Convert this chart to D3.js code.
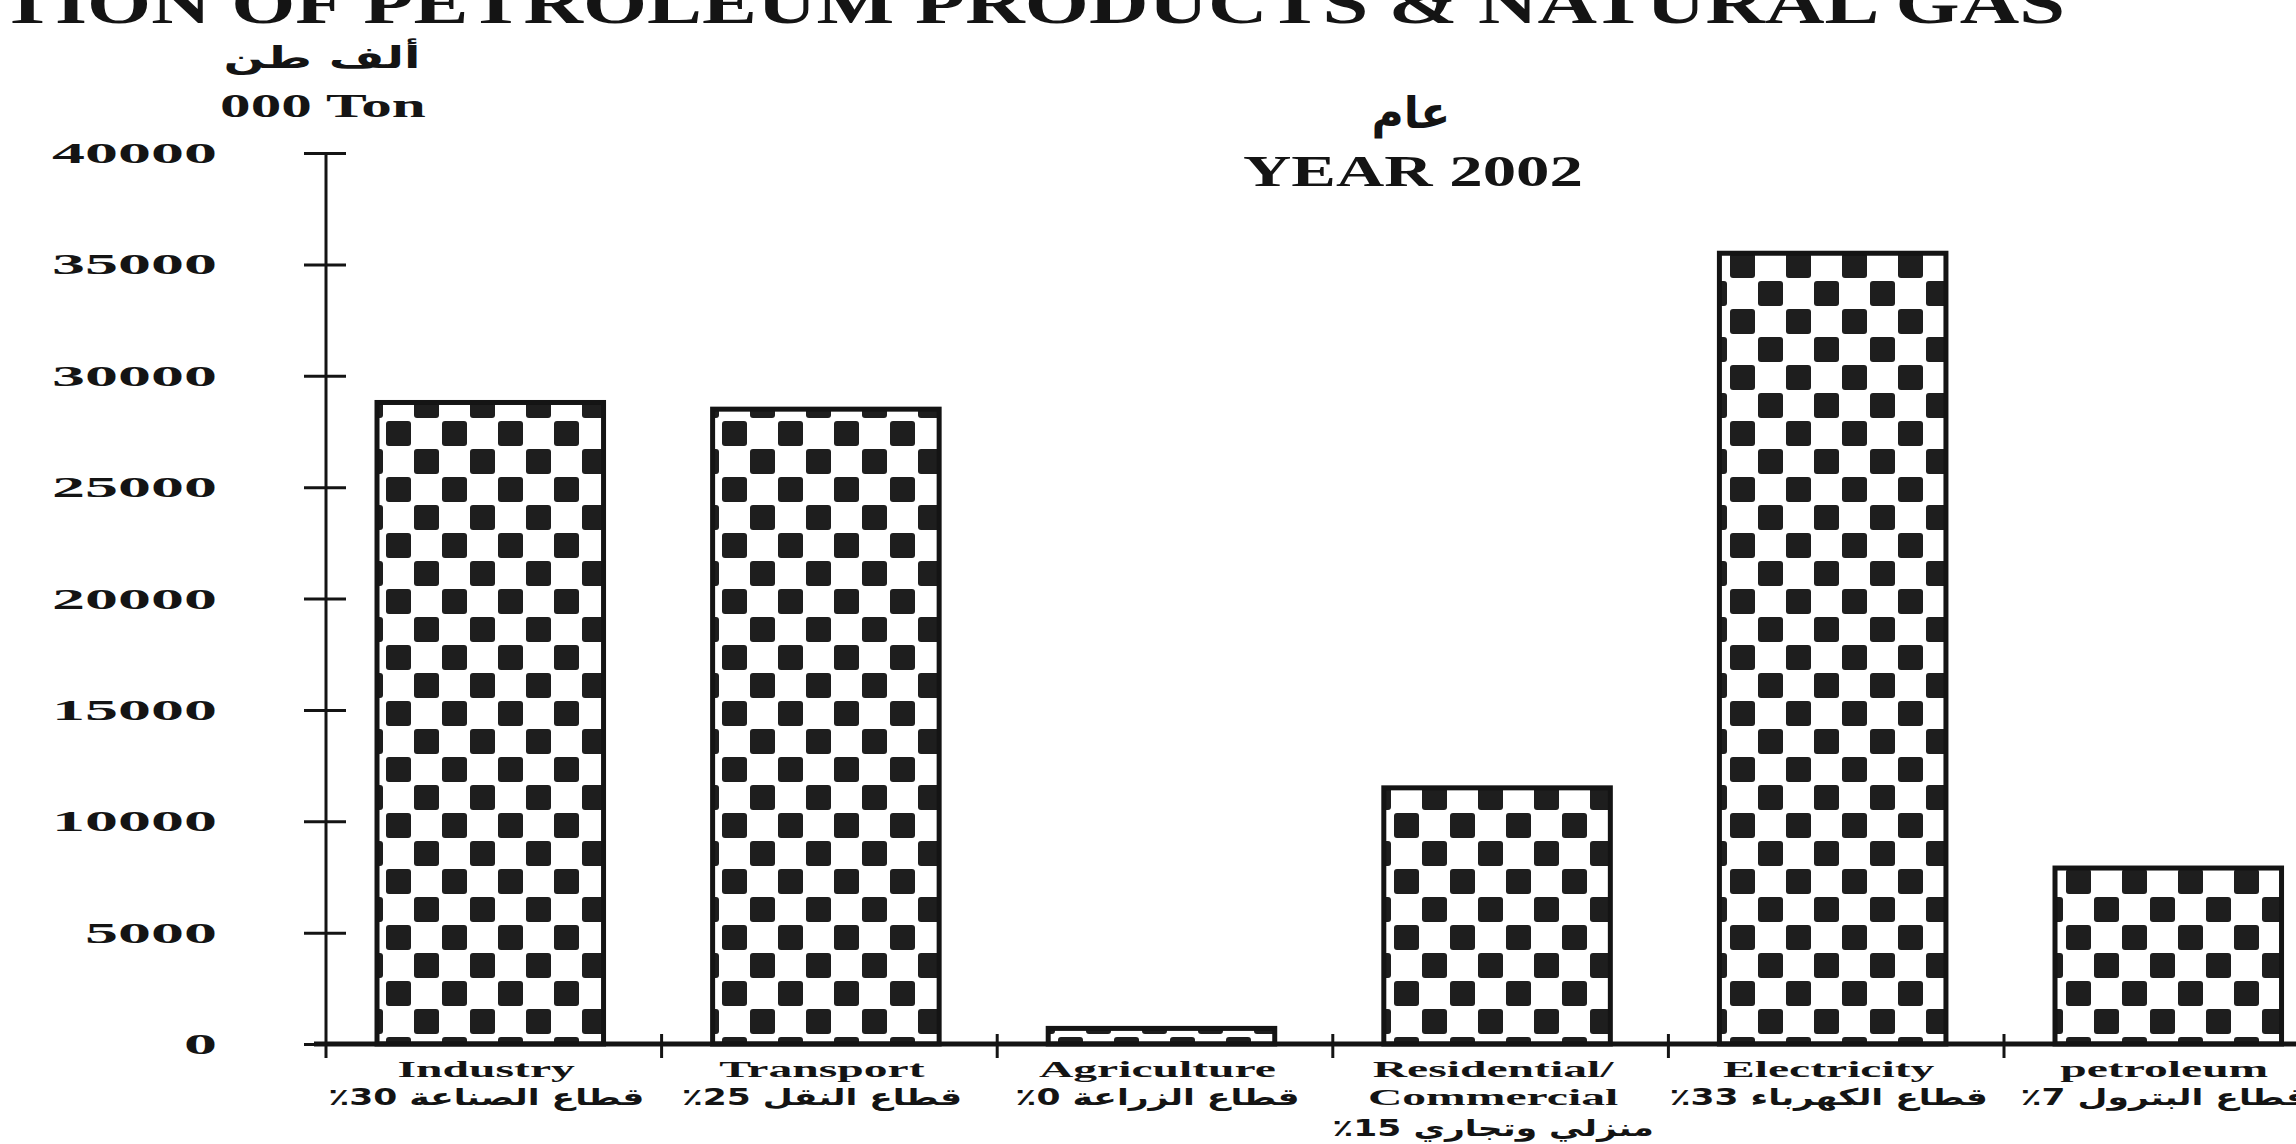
<!DOCTYPE html>
<html>
<head>
<meta charset="utf-8">
<script src="https://cdn.jsdelivr.net/npm/d3@7"></script>
<style>
  html, body { margin: 0; padding: 0; background: #fff; }
  svg { display: block; }
</style>
</head>
<body>
<svg id="chart" width="2296" height="1144"></svg>
<script>
// ---- data ----
const categories = ["Industry", "Transport", "Agriculture", "Residential", "Electricity", "Petroleum"];
const labelLine1 = ["Industry", "Transport", "Agriculture", "Residential/", "Electricity", "petroleum"];
const labelLine2 = ["", "", "", "Commercial", "", ""];
const labelArabic = ["قطاع الصناعة 30٪", "قطاع النقل 25٪", "قطاع الزراعة 0٪", "منزلي وتجاري 15٪", "قطاع الكهرباء 33٪", "قطاع البترول 7٪"];
const values = [28800, 28500, 700, 11500, 35500, 7900];
const yTickValues = [0, 5000, 10000, 15000, 20000, 25000, 30000, 35000, 40000];
const titleText = "TION OF PETROLEUM PRODUCTS & NATURAL GAS";
const unitArabic = "ألف طن";
const unitEnglish = "000 Ton";
const yearArabic = "عام";
const yearEnglish = "YEAR 2002";

// ---- layout ----
const svg = d3.select("#chart");
const serif = "'Liberation Serif', 'Times New Roman', serif";
const arabicFont = "'DejaVu Sans', sans-serif";
const ink = "#141414";

const axisX = 326, baseY = 1044, topY = 153, bandStep = 335.6;
const y = d3.scaleLinear().domain([0, 40000]).range([baseY, topY]);
const x = d3.scaleBand().domain(categories)
  .range([axisX, axisX + bandStep * categories.length])
  .paddingInner(0).paddingOuter(0);
const barOffset = 0.152, barFrac = 0.675;

// stretch helper: widen text horizontally like the original typesetting
function stretch(sel, factor) {
  sel.each(function () {
    const w = this.getComputedTextLength();
    d3.select(this).attr("textLength", w * factor).attr("lengthAdjust", "spacingAndGlyphs");
  });
  return sel;
}

// checker pattern
const defs = svg.append("defs");
const pat = defs.append("pattern").attr("id", "checker")
  .attr("patternUnits", "userSpaceOnUse")
  .attr("width", 56).attr("height", 56).attr("x", 48).attr("y", 27);
pat.append("rect").attr("width", 56).attr("height", 56).attr("fill", "#fff");
pat.append("rect").attr("x", 2).attr("y", 2).attr("width", 25).attr("height", 25).attr("rx", 3).attr("fill", "#1e1e1e");
pat.append("rect").attr("x", 30).attr("y", 30).attr("width", 25).attr("height", 25).attr("rx", 3).attr("fill", "#1e1e1e");

// title (cut at top edge)
svg.append("text").attr("x", 0).attr("y", 23)
  .attr("font-family", serif).attr("font-weight", "bold").attr("font-size", 60)
  .attr("fill", ink).text(titleText)
  .attr("textLength", 2065).attr("lengthAdjust", "spacingAndGlyphs");

// unit labels
stretch(svg.append("text").attr("x", 322).attr("y", 68).attr("text-anchor", "middle")
  .attr("font-family", arabicFont).attr("font-weight", "bold").attr("font-size", 30)
  .attr("direction", "rtl").attr("fill", ink).text(unitArabic), 1.6);
stretch(svg.append("text").attr("x", 323).attr("y", 117).attr("text-anchor", "middle")
  .attr("font-family", serif).attr("font-weight", "bold").attr("font-size", 34)
  .attr("fill", ink).text(unitEnglish), 1.8);

// year labels
stretch(svg.append("text").attr("x", 1411).attr("y", 128).attr("text-anchor", "middle")
  .attr("font-family", arabicFont).attr("font-weight", "bold").attr("font-size", 44)
  .attr("direction", "rtl").attr("fill", ink).text(yearArabic), 1.0);
stretch(svg.append("text").attr("x", 1413).attr("y", 186).attr("text-anchor", "middle")
  .attr("font-family", serif).attr("font-weight", "bold").attr("font-size", 44)
  .attr("fill", ink).text(yearEnglish), 1.52);

// bars
svg.append("g").selectAll("rect").data(values).join("rect")
  .attr("x", (d, i) => x(categories[i]) + x.bandwidth() * barOffset)
  .attr("width", x.bandwidth() * barFrac)
  .attr("y", d => y(d))
  .attr("height", d => baseY - y(d))
  .attr("fill", "url(#checker)")
  .attr("stroke", ink).attr("stroke-width", 5);

// y axis
const yAxis = d3.axisLeft(y).tickValues(yTickValues).tickSize(0).tickFormat(d3.format("d"));
const gy = svg.append("g").attr("transform", `translate(${axisX},0)`).call(yAxis);
gy.select(".domain").remove();
gy.selectAll(".tick text")
  .attr("x", -109)
  .attr("font-family", serif).attr("font-weight", "bold").attr("font-size", 30)
  .attr("fill", ink);
gy.selectAll(".tick text").each(function () {
  const w = this.getComputedTextLength();
  d3.select(this).attr("textLength", w * 2.2).attr("lengthAdjust", "spacingAndGlyphs");
});
gy.selectAll(".tick").append("line")
  .attr("x1", -22).attr("x2", 20).attr("stroke", ink).attr("stroke-width", 3);
svg.append("line").attr("x1", axisX).attr("x2", axisX)
  .attr("y1", y(40000)).attr("y2", baseY + 14)
  .attr("stroke", ink).attr("stroke-width", 3);

// x axis
svg.append("line").attr("x1", axisX - 12).attr("x2", 2296)
  .attr("y1", baseY).attr("y2", baseY).attr("stroke", ink).attr("stroke-width", 5);
svg.append("g").selectAll("line").data(categories.slice(1)).join("line")
  .attr("x1", d => x(d)).attr("x2", d => x(d))
  .attr("y1", baseY - 10).attr("y2", baseY + 14)
  .attr("stroke", ink).attr("stroke-width", 3);

// category labels
const lab = svg.append("g");
categories.forEach((c, i) => {
  const cx = x(c) + x.bandwidth() * (barOffset + barFrac / 2) - 4;
  stretch(lab.append("text").attr("x", cx).attr("y", 1077).attr("text-anchor", "middle")
    .attr("font-family", serif).attr("font-weight", "bold").attr("font-size", 23)
    .attr("fill", ink).text(labelLine1[i]), 2.07);
  let arY = 1105;
  if (labelLine2[i]) {
    stretch(lab.append("text").attr("x", cx).attr("y", 1105).attr("text-anchor", "middle")
      .attr("font-family", serif).attr("font-weight", "bold").attr("font-size", 23)
      .attr("fill", ink).text(labelLine2[i]), 2.07);
    arY = 1136;
  }
  stretch(lab.append("text").attr("x", cx).attr("y", arY).attr("text-anchor", "middle")
    .attr("font-family", arabicFont).attr("font-weight", "bold").attr("font-size", 23)
    .attr("direction", "rtl").attr("fill", ink).text(labelArabic[i]), 1.5);
});
</script>
</body>
</html>
